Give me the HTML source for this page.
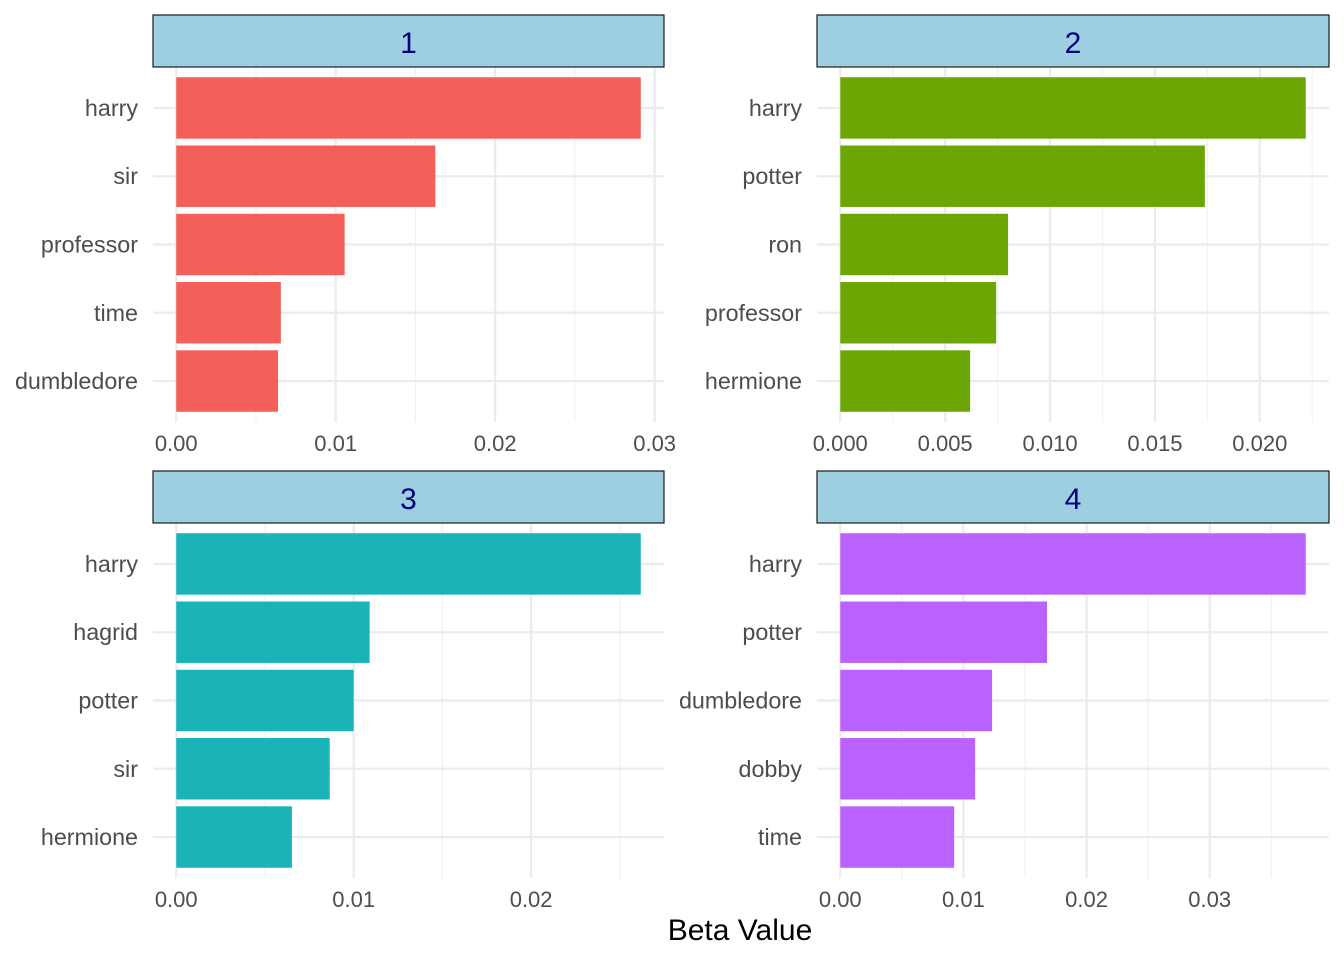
<!DOCTYPE html>
<html><head><meta charset="utf-8"><style>
body{margin:0;background:#fff;}
svg{display:block;font-family:"Liberation Sans",Arial,sans-serif;}
</style></head><body>
<svg id="chart" width="1344" height="960"></svg>
<script>
const topics=["1","2","3","4"];
const terms1=["harry","sir","professor","time","dumbledore"];
const beta1=[0.02913,0.01625,0.01056,0.00656,0.00638];
const terms2=["harry","potter","ron","professor","hermione"];
const beta2=[0.02219,0.01738,0.0080,0.00743,0.00619];
const terms3=["harry","hagrid","potter","sir","hermione"];
const beta3=[0.02618,0.0109,0.0100,0.00865,0.00652];
const terms4=["harry","potter","dumbledore","dobby","time"];
const beta4=[0.0378,0.01679,0.01233,0.01095,0.00925];
const ticks1=[0,0.01,0.02,0.03];const tickLab1=["0.00","0.01","0.02","0.03"];
const ticks2=[0,0.005,0.01,0.015,0.02];const tickLab2=["0.000","0.005","0.010","0.015","0.020"];
const ticks3=[0,0.01,0.02];const tickLab3=["0.00","0.01","0.02"];
const ticks4=[0,0.01,0.02,0.03];const tickLab4=["0.00","0.01","0.02","0.03"];
const colors=["#f45f5a","#6ba605","#1ab4b8","#b962ff"];
const NS="http://www.w3.org/2000/svg";
const svg=document.getElementById("chart");
function mk(tag,attrs,parent){const e=document.createElementNS(NS,tag);for(const k in attrs)e.setAttribute(k,attrs[k]);(parent||svg).appendChild(e);return e;}
const panels=[
 {x0:153,x1:664,y0:15,terms:terms1,beta:beta1,ticks:ticks1,labs:tickLab1},
 {x0:817,x1:1329,y0:15,terms:terms2,beta:beta2,ticks:ticks2,labs:tickLab2},
 {x0:153,x1:664,y0:471,terms:terms3,beta:beta3,ticks:ticks3,labs:tickLab3},
 {x0:817,x1:1329,y0:471,terms:terms4,beta:beta4,ticks:ticks4,labs:tickLab4}];
panels.forEach((p,i)=>{
 const g=mk("g",{});
 
 
 const m=Math.max(...p.beta);
 const d0=-0.05*m,d1=1.05*m;
 const xs=v=>p.x0+(v-d0)/(d1-d0)*(p.x1-p.x0);
 const py0=p.y0+52, py1=py0+355;
 const n=p.terms.length, step=(py1-py0)/(n-1+1.2);
 const yc=k=>py0+step*(0.6+k);
 for(let k=0;k<p.ticks.length;k++){
  const step2=p.ticks[1]-p.ticks[0];
  const mv=p.ticks[k]+step2/2;
  if(xs(mv)<p.x1){const l=mk("line",{x1:xs(mv),x2:xs(mv),y1:py0,y2:py1,stroke:"#f0f0f0","stroke-width":1.1},g);
  }
 }
 p.ticks.forEach((t,k)=>{
  const l=mk("line",{x1:xs(t),x2:xs(t),y1:py0,y2:py1,stroke:"#ebebeb","stroke-width":2.2},g);
  
  const tx=mk("text",{x:xs(t),y:py1+29,"text-anchor":"middle","font-size":"22",fill:"#4d4d4d"},g);
  tx.textContent=p.labs[k];
  
 });
 p.terms.forEach((t,k)=>{
  const l=mk("line",{x1:p.x0,x2:p.x1,y1:yc(k),y2:yc(k),stroke:"#ebebeb","stroke-width":2.2},g);
  
 });
 p.terms.forEach((t,k)=>{
  const bh=step*0.9;
  const r=mk("rect",{x:xs(0),y:yc(k)-bh/2,width:xs(p.beta[k])-xs(0),height:bh,fill:colors[i]},g);
  
  const tx=mk("text",{x:p.x0-15,y:yc(k)+8,"text-anchor":"end","font-size":"23.3",fill:"#4d4d4d"},g);
  tx.textContent=t;
  
 });
 const s=mk("rect",{x:p.x0,y:p.y0,width:p.x1-p.x0,height:52,fill:"#9ecfe0",stroke:"#1a1a1a","stroke-width":1.2},g);
 
 const st=mk("text",{x:(p.x0+p.x1)/2,y:p.y0+38,"text-anchor":"middle","font-size":"30",fill:"#000080"},g);
 st.textContent=topics[i];
 
});
const xt=mk("text",{x:740,y:940,"text-anchor":"middle","font-size":"30",fill:"#000"});
xt.textContent="Beta Value";


</script>
</body></html>
